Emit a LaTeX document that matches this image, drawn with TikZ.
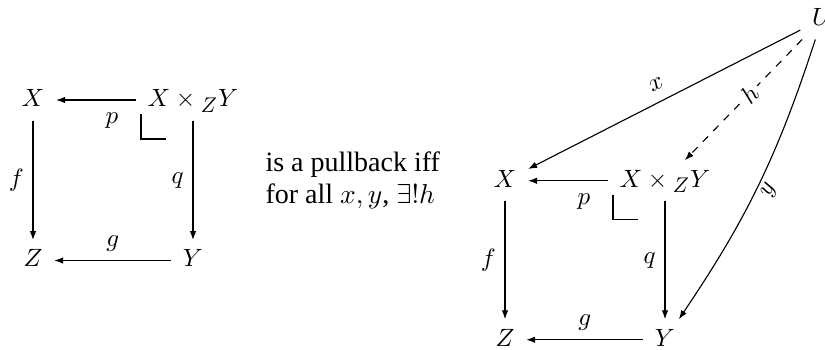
\documentclass[tikz,border=0pt]{standalone}
\usepackage{fontspec}
\usepackage{graphicx}
\newfontfamily\txtfont{Liberation Serif}
\usetikzlibrary{arrows.meta,calc}
\newcommand{\pbobj}{X \times {}_{\scalebox{0.85}{$Z$}} Y}
\begin{document}
\begin{tikzpicture}[x=0.4pt,y=-0.4pt,
  obj/.style={inner xsep=4.5pt, inner ysep=3.5pt, text height=7pt, text depth=2pt},
  arr/.style={-{Latex[length=3.6pt,width=2.6pt]}, line width=0.45pt},
  lbl/.style={inner sep=3.5pt},
  plbl/.style={inner sep=5pt, below, pos=0.3},
  lblfar/.style={inner sep=4.5pt},
  corner/.style={line width=0.45pt},
  prose/.style={anchor=base west, inner sep=0pt, font=\fontsize{11.2}{13.2}\selectfont\txtfont}]
\useasboundingbox (0,0) rectangle (825,349);
% left square
\node[obj] (X1) at (33,100) {$X$};
\node[obj] (P1) at (193,100) {$\pbobj$};
\node[obj] (Z1) at (33,260.5) {$Z$};
\node[obj] (Y1) at (193,260.5) {$Y$};
\draw[arr] (P1) -- node[plbl] {$p$} (X1);
\draw[arr] (X1) -- node[lbl, left] {$f$} (Z1);
\draw[arr] (P1) -- node[lbl, left] {$q$} (Y1);
\draw[arr] (Y1) -- node[lbl, above] {$g$} (Z1);
\coordinate (C1) at ($(P1.center)+(-52,39)$);
\draw[corner] ($(C1)+(0,-25)$) -- (C1) -- ($(C1)+(25,0)$);
% text
\node[prose] (T1) at (265,171) {is a pullback iff};
\node[prose] (T2) at (265,203) {for all $x, y$, $\exists! h$};
% right square
\node[obj] (X2) at (505,180.75) {$X$};
\node[obj] (P2) at (665,180.75) {$\pbobj$};
\node[obj] (Z2) at (505,339.75) {$Z$};
\node[obj] (Y2) at (665,339.75) {$Y$};
\node[obj] (U) at (822,19) {$U$};
\draw[arr] (P2) -- node[plbl] {$p$} (X2);
\draw[arr] (X2) -- node[lbl, left] {$f$} (Z2);
\draw[arr] (P2) -- node[lbl, left] {$q$} (Y2);
\draw[arr] (Y2) -- node[lbl, above] {$g$} (Z2);
\coordinate (C2) at ($(P2.center)+(-52,39)$);
\draw[corner] ($(C2)+(0,-25)$) -- (C2) -- ($(C2)+(25,0)$);
\draw[arr] (U) -- node[lblfar, above, sloped] {$x$} (X2);
\draw[arr, dashed] (U) -- node[fill=white, sloped, inner sep=1.5pt, pos=0.45] {$h$} (P2);
\draw[arr] (U) to[bend left=8] node[inner sep=1.5pt, below, sloped] {$y$} (Y2);
\end{tikzpicture}
\end{document}
